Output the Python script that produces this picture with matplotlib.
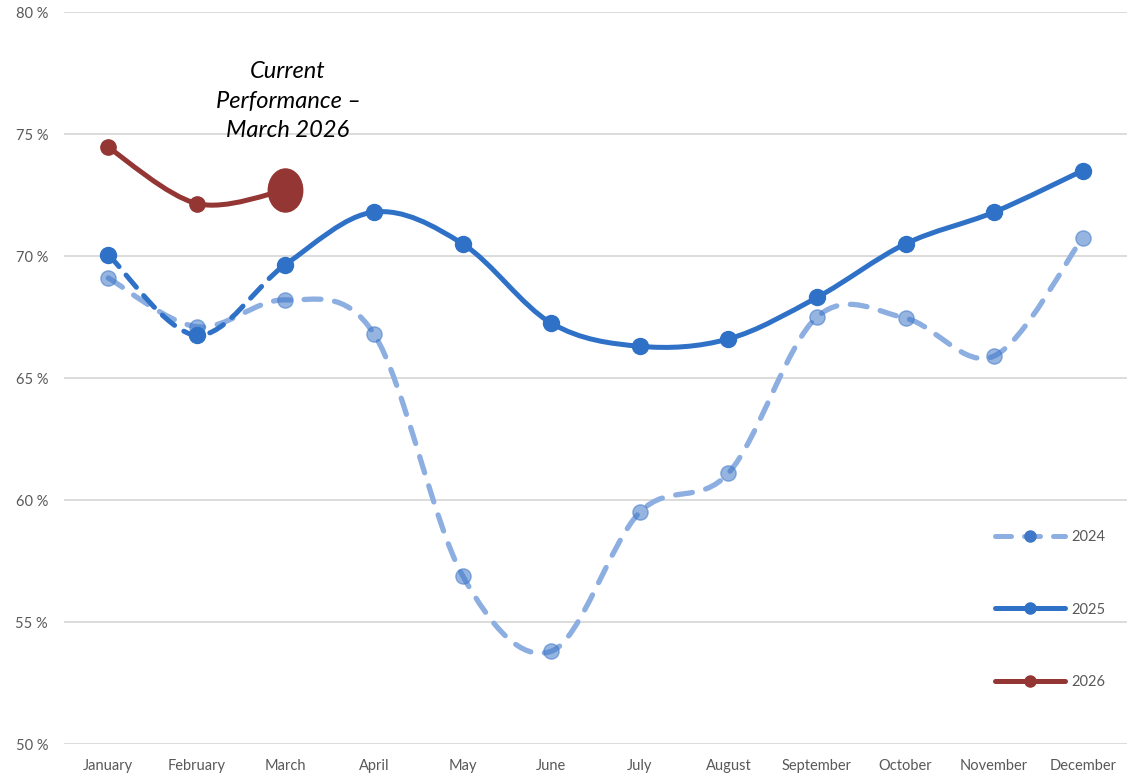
import numpy as np
import matplotlib
matplotlib.use("Agg")
import matplotlib.pyplot as plt
from matplotlib.path import Path
from matplotlib.patches import PathPatch
from matplotlib.lines import Line2D
from matplotlib.transforms import Affine2D

plt.rcParams['font.family'] = ['Lato', 'DejaVu Sans']

months = ["January", "February", "March", "April", "May", "June", "July",
          "August", "September", "October", "November", "December"]
vals_2024 = [69.1, 67.1, 68.2, 66.8, 56.9, 53.8, 59.5, 61.1, 67.5, 67.45, 65.9, 70.75]
vals_2025 = [70.05, 66.75, 69.65, 71.8, 70.5, 67.25, 66.3, 66.6, 68.3, 70.5, 71.8, 73.5]
vals_2026 = [74.45, 72.15, 72.7]

c24_line = "#8DAEE0"
c24_mark = "#3F78C8"
c25 = "#2E71C6"
c26 = "#943634"
grey = "#595959"


# excel-like smooth curve as cubic bezier path, segments i0..i1
def smooth_path(y, i0=0, i1=None):
    y = list(y)
    n = len(y)
    if i1 is None:
        i1 = n - 1
    pts = [(float(i), y[i]) for i in range(n)]
    verts = [pts[i0]]
    codes = [Path.MOVETO]
    for i in range(i0, i1):
        p0 = pts[max(i - 1, 0)]
        p1 = pts[i]
        p2 = pts[i + 1]
        p3 = pts[min(i + 2, n - 1)]
        c1 = (p1[0] + (p2[0] - p0[0]) / 6, p1[1] + (p2[1] - p0[1]) / 6)
        c2 = (p2[0] - (p3[0] - p1[0]) / 6, p2[1] - (p3[1] - p1[1]) / 6)
        verts += [c1, c2, p2]
        codes += [Path.CURVE4] * 3
    return Path(verts, codes)


fig = plt.figure(figsize=(11.32, 7.74), dpi=100)
ax = fig.add_axes([64 / 1132, 30 / 774, (1127 - 64) / 1132, (744 - 12) / 774])

x = np.arange(len(months))

# 2024
ax.add_patch(PathPatch(smooth_path(vals_2024), fill=False, ec=c24_line, lw=3.8,
                       ls=(0, (3.2, 2.6)), capstyle='round', joinstyle='round', zorder=3))
ax.plot(x, vals_2024, 'o', ms=11, mfc=c24_mark, mec=c24_mark, alpha=0.55, zorder=4)

# 2025 - dashed to March, solid after
ax.add_patch(PathPatch(smooth_path(vals_2025, 0, 2), fill=False, ec=c25, lw=3.6,
                       ls=(0, (3.2, 2.2)), capstyle='round', zorder=5))
ax.add_patch(PathPatch(smooth_path(vals_2025, 2), fill=False, ec=c25, lw=3.6,
                       capstyle='round', zorder=5))
ax.plot(x, vals_2025, 'o', ms=11.5, color=c25, zorder=6)

# 2026
x26 = np.arange(len(vals_2026))
ax.add_patch(PathPatch(smooth_path(vals_2026), fill=False, ec=c26, lw=3.6,
                       capstyle='round', zorder=7))
ax.plot(x26[:-1], vals_2026[:-1], 'o', ms=11, color=c26, zorder=8)
ellipse = Path.unit_circle().transformed(Affine2D().scale(0.8, 1.0))
ax.plot(x26[-1:], vals_2026[-1:], marker=ellipse, ms=31, color=c26, ls='none', zorder=8)

ax.text(2.03, 76.35, "Current\nPerformance \u2013\nMarch 2026", ha='center', va='center',
        fontsize=17, style='italic', color='black', linespacing=1.52)

ax.set_xlim(-0.5, 11.5)
ax.set_ylim(50, 80)
ax.set_xticks(x)
ax.set_xticklabels(months)
ax.set_yticks(np.arange(50, 81, 5))
ax.set_yticklabels([f"{v} %" for v in range(50, 81, 5)])
ax.tick_params(length=0, colors=grey, labelsize=10.5)
ax.tick_params(axis='x', pad=10.5)
ax.tick_params(axis='y', pad=11.5)
ax.grid(axis='y', color="#D9D9D9", lw=1.3)
ax.set_axisbelow(True)
for s in ax.spines.values():
    s.set_visible(False)

handles = [
    Line2D([], [], color=c24_line, lw=3.6, ls=(0, (3.2, 2.6)), marker='o', ms=8,
           mfc=c24_mark, mec=c24_mark, solid_capstyle='round', dash_capstyle='round'),
    Line2D([], [], color=c25, lw=3.6, marker='o', ms=8, solid_capstyle='round'),
    Line2D([], [], color=c26, lw=3.6, marker='o', ms=8, solid_capstyle='round'),
]
leg = ax.legend(handles, ["2024", "2025", "2026"], loc='upper right',
                bbox_to_anchor=(0.992, 0.31), frameon=False, fontsize=10.5,
                handlelength=4.75, labelspacing=4.0, handletextpad=0.45,
                labelcolor=grey)

fig.savefig("out.png", dpi=100)
